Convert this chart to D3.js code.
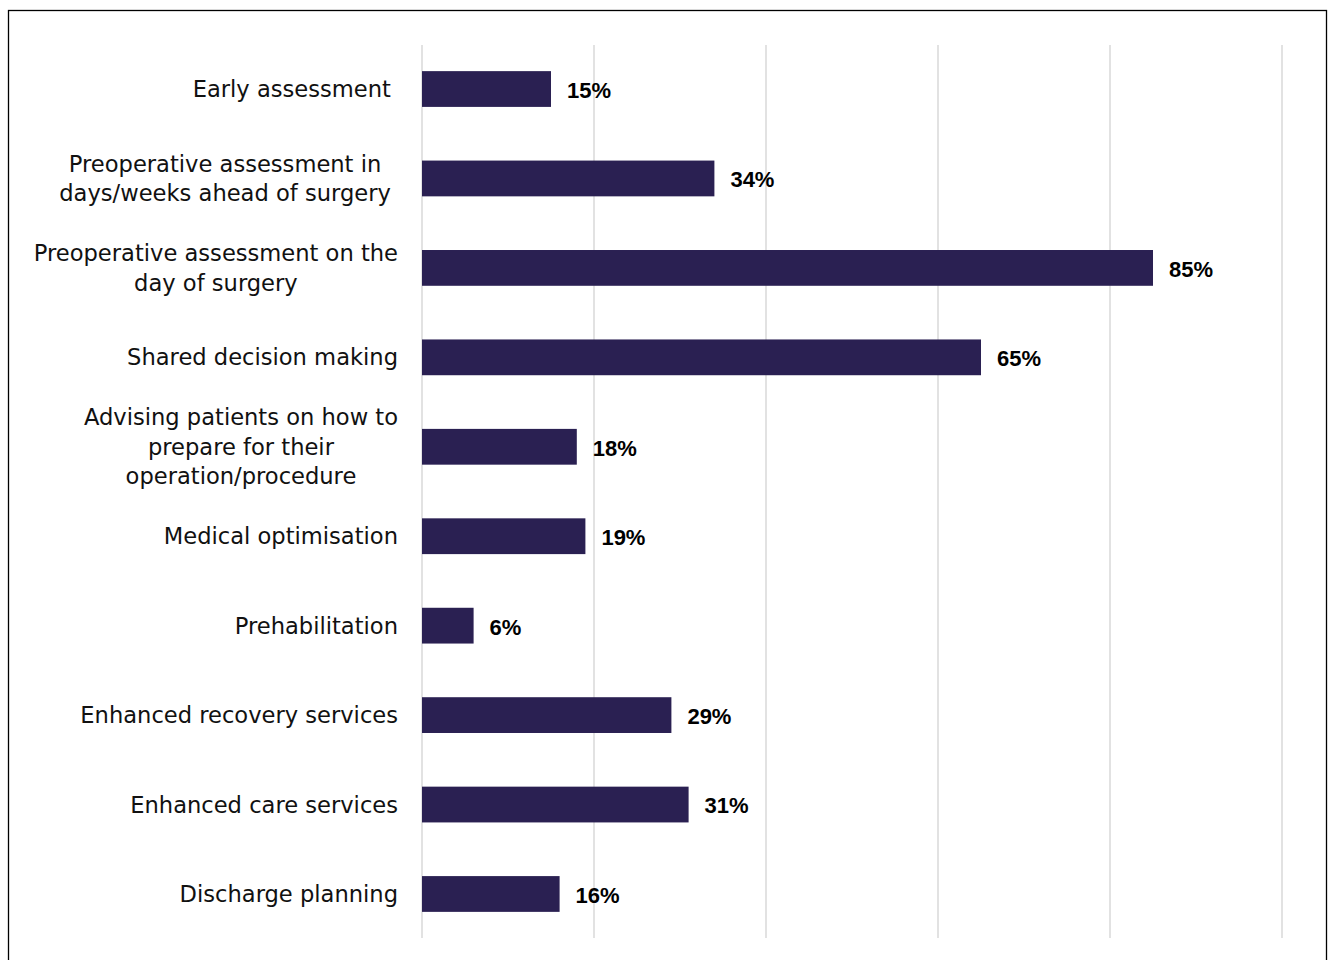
<!DOCTYPE html>
<html>
<head>
<meta charset="utf-8">
<script src="https://cdn.jsdelivr.net/npm/d3@7"></script>
<style>
  html, body { margin: 0; padding: 0; background: #fff; }
  svg { display: block; }
  .cat { font-family: "DejaVu Sans", sans-serif; font-size: 22.6px; fill: #111; white-space: pre; }
  .val { font-family: "Liberation Sans", Arial, sans-serif; font-size: 22px; font-weight: bold; fill: #000; }
</style>
</head>
<body>
<svg id="chart" width="1328" height="960"></svg>
<script>
// Service categories (one entry per line of the wrapped label)
const categories = [
  ["Early assessment "],
  ["Preoperative assessment in ", "days/weeks ahead of surgery "],
  ["Preoperative assessment on the", "day of surgery"],
  ["Shared decision making"],
  ["Advising patients on how to", "prepare for their", "operation/procedure"],
  ["Medical optimisation"],
  ["Prehabilitation"],
  ["Enhanced recovery services"],
  ["Enhanced care services"],
  ["Discharge planning"]
];
// Percentage of respondents
const values = [15, 34, 85, 65, 18, 19, 6, 29, 31, 16];
// Vertical gridline positions (%)
const gridTicks = [0, 20, 40, 60, 80, 100];

const svg = d3.select("#chart");
const barColor = "#2a2052";

// Outer frame
svg.append("rect")
  .attr("x", 8.5).attr("y", 10.5)
  .attr("width", 1318).attr("height", 970)
  .attr("fill", "none").attr("stroke", "#000").attr("stroke-width", 1.3);

const x = d3.scaleLinear().domain([0, 100]).range([422, 1282]);
const y = d3.scaleBand()
  .domain(d3.range(categories.length))
  .range([44.3, 938.7])
  .paddingInner(0.6)
  .paddingOuter(0.3);

// Gridlines
svg.append("g").selectAll("line")
  .data(gridTicks)
  .join("line")
  .attr("x1", d => x(d)).attr("x2", d => x(d))
  .attr("y1", 45).attr("y2", 938)
  .attr("stroke", "#d9d9d9").attr("stroke-width", 1.5);

// Bars
svg.append("g").selectAll("rect")
  .data(values)
  .join("rect")
  .attr("x", x(0))
  .attr("y", (d, i) => y(i))
  .attr("width", d => x(d) - x(0))
  .attr("height", y.bandwidth())
  .attr("fill", barColor);

// Value labels
svg.append("g").selectAll("text")
  .data(values)
  .join("text")
  .attr("class", "val")
  .attr("x", d => x(d) + 16)
  .attr("y", (d, i) => y(i) + y.bandwidth() / 2 + 1)
  .attr("dy", "0.36em")
  .text(d => d + "%");

// Category labels: lines centred within a block whose right edge sits left of the axis
const labelRight = 398;
const lineH = 29.5;
const catG = svg.append("g");
categories.forEach((lines, i) => {
  const cy = y(i) + y.bandwidth() / 2;
  const g = catG.append("g");
  const texts = lines.map((ln, j) =>
    g.append("text")
      .attr("class", "cat")
      .attr("text-anchor", "middle")
      .attr("y", cy + (j - (lines.length - 1) / 2) * lineH)
      .attr("dy", "0.36em")
      .text(ln)
  );
  const maxW = d3.max(texts, t => t.node().getComputedTextLength());
  texts.forEach(t => t.attr("x", labelRight - maxW / 2));
});
</script>
</body>
</html>
